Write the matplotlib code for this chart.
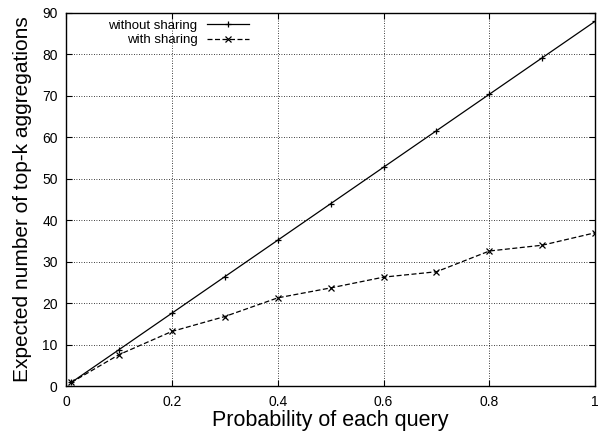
import numpy as np
import matplotlib.pyplot as plt

plt.rcParams['font.family'] = ['Liberation Sans', 'DejaVu Sans']

prob = [0.01, 0.1, 0.2, 0.3, 0.4, 0.5, 0.6, 0.7, 0.8, 0.9, 1.0]
without_sharing = [0.9, 8.8, 17.6, 26.4, 35.2, 44.0, 52.8, 61.6, 70.4, 79.2, 88.0]
with_sharing = [0.9, 7.6, 13.2, 16.8, 21.3, 23.7, 26.3, 27.6, 32.6, 34.0, 37.0]

fig = plt.figure(figsize=(6, 4.32), dpi=100)
ax = fig.add_axes([0.11, 0.106, 0.882, 0.864])

ax.plot(prob, without_sharing, color='black', linestyle='-', linewidth=0.9,
        marker='+', markersize=5, markeredgewidth=0.9, label='without sharing')
ax.plot(prob, with_sharing, color='black', linestyle=(0, (4, 2)), linewidth=0.9,
        marker='x', markersize=4, markeredgewidth=0.9, label='with sharing')

ax.set_xlim(0, 1)
ax.set_ylim(0, 90)
ax.set_xticks([0, 0.2, 0.4, 0.6, 0.8, 1])
ax.set_xticklabels(['0', '0.2', '0.4', '0.6', '0.8', '1'])
ax.set_yticks(range(0, 91, 10))
ax.tick_params(direction='in', top=True, right=True, labelsize=10, length=4, width=0.8)
ax.tick_params(axis='y', pad=6)
ax.tick_params(axis='x', pad=6)
ax.grid(True, linestyle=(0, (1, 2)), color='black', linewidth=0.6)
for s in ax.spines.values():
    s.set_linewidth(1.0)

ax.set_xlabel('Probability of each query', fontsize=15.5, labelpad=1)
ax.set_ylabel('Expected number of top-k aggregations', fontsize=15, labelpad=7)

leg = ax.legend(loc='upper left', bbox_to_anchor=(0.06, 1.01), frameon=False,
                markerfirst=False, fontsize=9.5, handlelength=3.2, borderpad=0.3,
                labelspacing=0.15, handletextpad=0.7)
for t in leg.get_texts():
    t.set_ha('right')

fig.savefig('out.png', dpi=100)
